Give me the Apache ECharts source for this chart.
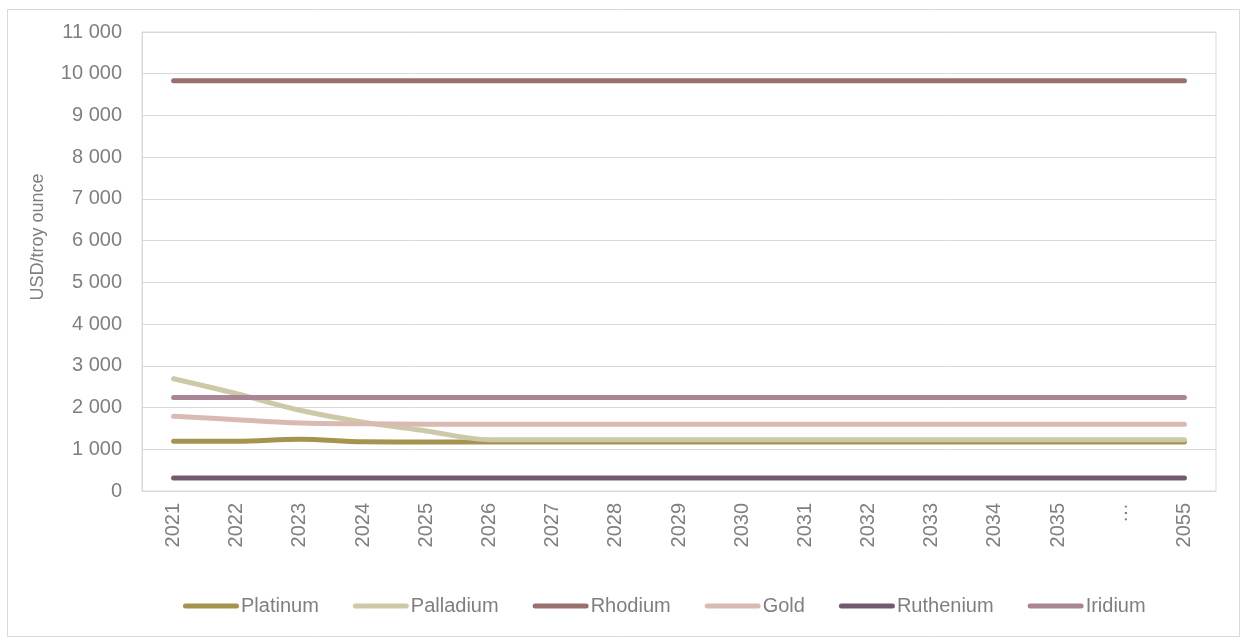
<!DOCTYPE html>
<html>
<head>
<meta charset="utf-8">
<script src="https://cdn.jsdelivr.net/npm/echarts@6/dist/echarts.min.js"></script>
<style>
  html, body { margin: 0; padding: 0; background: #fff; }
  #chart { width: 1247px; height: 643px; }
</style>
</head>
<body>
<div id="chart"></div>
<script>
// Years on the category axis ("…" marks the skipped span before 2055)
const years = ['2021', '2022', '2023', '2024', '2025', '2026', '2027', '2028', '2029',
  '2030', '2031', '2032', '2033', '2034', '2035', '…', '2055'];

// Prices, USD per troy ounce
const platinum  = [1190, 1190, 1240, 1180, 1175, 1175, 1175, 1175, 1175, 1175, 1175, 1175, 1175, 1175, 1175, 1175, 1175];
const palladium = [2690, 2330, 1935, 1650, 1440, 1230, 1230, 1230, 1230, 1230, 1230, 1230, 1230, 1230, 1230, 1230, 1230];
const rhodium   = [9830, 9830, 9830, 9830, 9830, 9830, 9830, 9830, 9830, 9830, 9830, 9830, 9830, 9830, 9830, 9830, 9830];
const gold      = [1790, 1710, 1630, 1610, 1600, 1600, 1600, 1600, 1600, 1600, 1600, 1600, 1600, 1600, 1600, 1600, 1600];
const ruthenium = [310, 310, 310, 310, 310, 310, 310, 310, 310, 310, 310, 310, 310, 310, 310, 310, 310];
const iridium   = [2240, 2240, 2240, 2240, 2240, 2240, 2240, 2240, 2240, 2240, 2240, 2240, 2240, 2240, 2240, 2240, 2240];

const seriesDefs = [
  { name: 'Platinum',  data: platinum,  color: '#A5944F' },
  { name: 'Palladium', data: palladium, color: '#CDC8A7' },
  { name: 'Rhodium',   data: rhodium,   color: '#99706B' },
  { name: 'Gold',      data: gold,      color: '#D8BAB2' },
  { name: 'Ruthenium', data: ruthenium, color: '#745A6D' },
  { name: 'Iridium',   data: iridium,   color: '#AA8595' }
];

const textColor = '#7F7F7F';
const lineGrey = '#D9D9D9';
const font = 'Liberation Sans, Arial, sans-serif';

const chart = echarts.init(document.getElementById('chart'), null, { renderer: 'canvas' });

chart.setOption({
  backgroundColor: '#ffffff',
  animation: false,
  textStyle: { fontFamily: font },
  graphic: [
    {
      type: 'rect',
      shape: { x: 7.5, y: 9.5, width: 1232, height: 627 },
      style: { fill: 'none', stroke: lineGrey, lineWidth: 1 },
      silent: true
    },
    {
      type: 'text',
      x: 38, y: 237,
      rotation: Math.PI / 2,
      style: {
        text: 'USD/troy ounce',
        fill: textColor,
        font: '18px ' + font,
        align: 'center',
        verticalAlign: 'middle'
      },
      silent: true
    }
  ],
  grid: {
    left: 142, right: 31, top: 32, bottom: 152,
    show: true, borderColor: lineGrey, borderWidth: 1,
    containLabel: false
  },
  legend: {
    top: 591,
    left: 178,
    itemWidth: 56,
    itemHeight: 5,
    itemGap: 34,
    icon: 'path://M2.5,0 L53.5,0 A2.5,2.5 0 0 1 53.5,5 L2.5,5 A2.5,2.5 0 0 1 2.5,0 Z',
    textStyle: { color: textColor, fontSize: 20, fontFamily: font, padding: [0, 0, 0, -3] },
    data: seriesDefs.map(s => s.name)
  },
  xAxis: {
    type: 'category',
    data: years,
    boundaryGap: true,
    axisLine: { show: true, lineStyle: { color: lineGrey } },
    axisTick: { show: false },
    axisLabel: {
      rotate: 90,
      color: textColor,
      fontSize: 20,
      fontFamily: font,
      margin: 12,
      interval: 0
    }
  },
  yAxis: {
    type: 'value',
    min: 0,
    max: 11000,
    interval: 1000,
    axisLine: { show: true, lineStyle: { color: lineGrey } },
    axisTick: { show: false },
    splitLine: { lineStyle: { color: lineGrey } },
    axisLabel: {
      color: textColor,
      fontSize: 20,
      fontFamily: font,
      margin: 20,
      formatter: v => String(v).replace(/\B(?=(\d{3})+(?!\d))/g, ' ')
    }
  },
  series: seriesDefs.map(s => ({
    name: s.name,
    type: 'line',
    data: s.data,
    smooth: 0.35,
    symbol: 'none',
    color: s.color,
    lineStyle: { color: s.color, width: 5, cap: 'round', join: 'round' },
    emphasis: { disabled: true }
  }))
});
</script>
</body>
</html>
